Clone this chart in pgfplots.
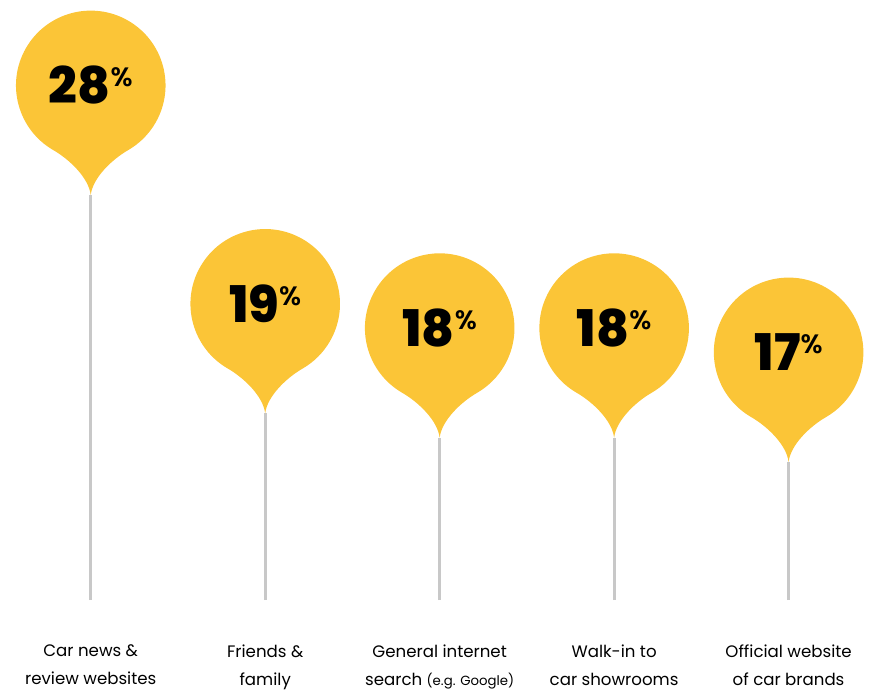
\documentclass[border=0pt]{standalone}
\usepackage{fontspec}
\setmainfont{Poppins}
\newfontfamily\heavyfont{Poppins ExtraBold}
\newfontfamily\pctfont{Poppins SemiBold}
\usepackage{pgfplots}
\usepackage{pgfplotstable}
\pgfplotsset{compat=1.18}

\definecolor{pinyellow}{RGB}{251,197,55}
\definecolor{stemgray}{RGB}{200,200,200}

% map pin: tip at the data point, round head above it
\pgfdeclareplotmark{pin}{%
  \pgfsetfillcolor{pinyellow}%
  \pgfpathmoveto{\pgfpointorigin}%
  \pgfpathcurveto{\pgfpoint{-1.5pt}{13pt}}{\pgfpoint{-16pt}{26.8pt}}{\pgfpoint{-28.1pt}{33.8pt}}%
  \pgfpatharc{240}{-60}{56.25pt}%
  \pgfpathcurveto{\pgfpoint{16pt}{26.8pt}}{\pgfpoint{1.5pt}{13pt}}{\pgfpointorigin}%
  \pgfpathclose
  \pgfusepathqfill
}

\pgfplotstableread{
x y
0 28
1 19
2 18
3 18
4 17
}\sources

\begin{document}
\begin{tikzpicture}
\begin{axis}[
  scale only axis,
  width=655.5pt, height=446.25pt,
  xmin=-0.52, xmax=4.474,
  ymin=11.31, ymax=35.75,
  axis line style={draw=none},
  tick style={draw=none},
  ytick=\empty,
  xtick={0,1,2,3,4},
  xticklabels={
    {Car news \&\\review websites},
    {Friends \&\\family},
    {General internet\\search {\fontsize{10}{21}\selectfont(e.g. Google)}},
    {Walk-in to\\car showrooms},
    {Official website\\of car brands}},
  xticklabel style={align=center, font=\fontsize{12.5}{21}\selectfont, yshift=-30pt},
]
\addplot[ycomb, stemgray, line width=2.25pt] table[x=x, y=y] {\sources};
\addplot[only marks, mark=pin,
  /pgf/number format/assume math mode=true,
  nodes near coords={\pgfmathprintnumber{\pgfplotspointmeta}\raisebox{13pt}{\pctfont\fontsize{20}{20}\selectfont\%}},
  every node near coord/.append style={anchor=center, yshift=82.5pt, font=\heavyfont\fontsize{38}{38}\selectfont, text=black},
] table[x=x, y=y] {\sources};
\end{axis}
\end{tikzpicture}
\end{document}
